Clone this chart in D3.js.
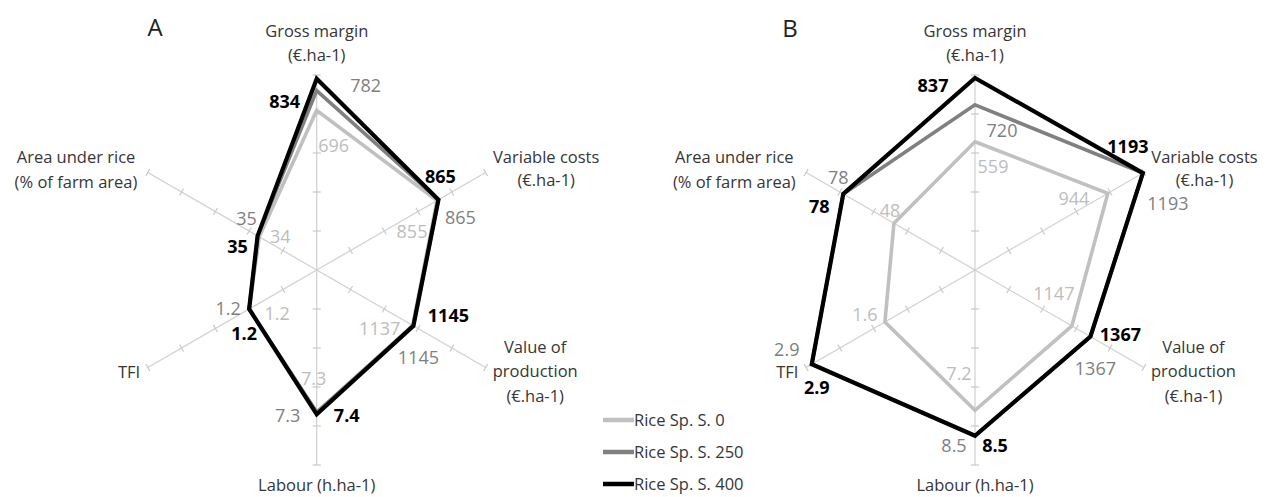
<!DOCTYPE html>
<html><head><meta charset="utf-8">
<script src="https://cdn.jsdelivr.net/npm/d3@7"></script>
<style>body{margin:0;background:#fff;} svg{display:block;}</style>
</head><body>
<svg id="chart" width="1272" height="497"></svg>
<script>
// ---------- DATA ----------
const axes = ["Gross margin (€.ha-1)", "Variable costs (€.ha-1)", "Value of production (€.ha-1)", "Labour (h.ha-1)", "TFI", "Area under rice (% of farm area)"];
const axisMax = [850, 1200, 2000, 10, 3, 100];
const seriesNames = ["Rice Sp. S. 0", "Rice Sp. S. 250", "Rice Sp. S. 400"];
const panelTitles = ["A", "B"];
// Panel A values (per axis order)
const A_rice0   = [696, 855, 1137, 7.3, 1.2, 34];
const A_rice250 = [782, 865, 1145, 7.3, 1.2, 35];
const A_rice400 = [834, 865, 1145, 7.4, 1.2, 35];
// Panel B values
const B_rice0   = [559, 944, 1147, 7.2, 1.6, 48];
const B_rice250 = [720, 1193, 1367, 8.5, 2.9, 78];
const B_rice400 = [837, 1193, 1367, 8.5, 2.9, 78];

// ---------- LAYOUT / STYLE ----------
const R = 195, nTicks = 5;
const colors = ["#c0c0c0", "#808080", "#000000"];
const labelColors = ["#bdbdbd", "#7f7f7f", "#000000"];
const widths = [3.6, 3.6, 4.2];
const centers = [[316.7, 270], [975, 270]];
const titlePos = [[155, 36], [790, 37]];
const axisLabelLayout = [
  {dx: 0, lines: [["Gross margin", -233], ["(€.ha-1)", -209]]},
  {dx: 229.5, lines: [["Variable costs", -107], ["(€.ha-1)", -84]]},
  {dx: 218.5, lines: [["Value of", 83], ["production", 107], ["(€.ha-1)", 132]]},
  {dx: 0, lines: [["Labour (h.ha-1)", 221]]},
  {dx: -187.7, lines: [["TFI", 108]]},
  {dx: -240.7, lines: [["Area under rice", -107], ["(% of farm area)", -82]]}
];
// value label offsets (text centre relative to point) [panel][series][axis]
const labelOffsets = [
  [
    [[17, 35], [-25, 30], [-33, 3], [-3, -34], [28, 4], [21, -1]],
    [[49, -6], [22, 17], [5, 31], [-29, 3], [-21, -1], [-11, -18]],
    [[-32, 22], [2, -24], [35, -11], [30, 1], [-5, 24], [-20, 10]]
  ],
  [
    [[18, 24], [-34, 5], [-18, -33], [-16, -37], [-20, -8], [-4, -13]],
    [[27, 25], [25, 30], [5, 31], [-21, 9], [-25, -15], [-5, -17]],
    [[-42, 7], [-15, -27], [30, -3], [20, 9], [5, 23], [-24, 12]]
  ]
];

const panels = [[A_rice0, A_rice250, A_rice400], [B_rice0, B_rice250, B_rice400]];
const scales = axisMax.map(m => d3.scaleLinear().domain([0, m]).range([0, R]));
const angle = i => -Math.PI / 2 + i * Math.PI / 3;
const font = "'Open Sans', 'DejaVu Sans', sans-serif";

const svg = d3.select("#chart");

panels.forEach((series, p) => {
  const [cx, cy] = centers[p];
  const g = svg.append("g").attr("transform", `translate(${cx},${cy})`);

  // axes
  axes.forEach((a, i) => {
    const ang = angle(i), c = Math.cos(ang), s = Math.sin(ang);
    g.append("line").attr("x1", 0).attr("y1", 0).attr("x2", c * R).attr("y2", s * R)
      .attr("stroke", "#d0d0d0").attr("stroke-width", 1.2);
    const tv = d3.range(1, nTicks + 1).map(k => axisMax[i] * k / nTicks);
    tv.forEach(v => {
      const r = scales[i](v);
      const px = -s, py = c;
      g.append("line")
        .attr("x1", c * r + px * 4).attr("y1", s * r + py * 4)
        .attr("x2", c * r - px * 4).attr("y2", s * r - py * 4)
        .attr("stroke", "#c8c8c8").attr("stroke-width", 1.2);
    });
    // axis labels
    const L = axisLabelLayout[i];
    L.lines.forEach(([t, dy]) => {
      g.append("text").attr("x", L.dx).attr("y", dy).attr("text-anchor", "middle")
        .attr("font-family", font).attr("font-size", 16.5).attr("fill", "#363636").text(t);
    });
  });

  const line = d3.lineRadial().curve(d3.curveLinearClosed)
    .angle((d, i) => i * Math.PI / 3).radius((d, i) => scales[i](d));

  series.forEach((vals, k) => {
    g.append("path").attr("d", line(vals)).attr("fill", "none")
      .attr("stroke", colors[k]).attr("stroke-width", widths[k]).attr("stroke-linejoin", "miter");
  });

  series.forEach((vals, k) => {
    vals.forEach((v, i) => {
      const ang = angle(i), r = scales[i](v);
      const [ox, oy] = labelOffsets[p][k][i];
      g.append("text").attr("x", Math.cos(ang) * r + ox).attr("y", Math.sin(ang) * r + oy)
        .attr("text-anchor", "middle").attr("dominant-baseline", "central")
        .attr("font-family", font).attr("font-size", 18)
        .attr("font-weight", k === 2 ? 700 : 400)
        .attr("fill", labelColors[k]).text(v);
    });
  });

  svg.append("text").attr("x", titlePos[p][0]).attr("y", titlePos[p][1]).attr("text-anchor", "middle")
    .attr("font-family", font).attr("font-size", 24).attr("fill", "#222").text(panelTitles[p]);
});

// legend
const lg = svg.append("g");
seriesNames.forEach((n, k) => {
  const y = 420 + k * 32;
  lg.append("line").attr("x1", 603).attr("x2", 634).attr("y1", y).attr("y2", y)
    .attr("stroke", colors[k]).attr("stroke-width", 4.5);
  lg.append("text").attr("x", 634).attr("y", y + 6).attr("font-family", font)
    .attr("font-size", 16.5).attr("fill", "#363636").text(n);
});
</script>
</body></html>
